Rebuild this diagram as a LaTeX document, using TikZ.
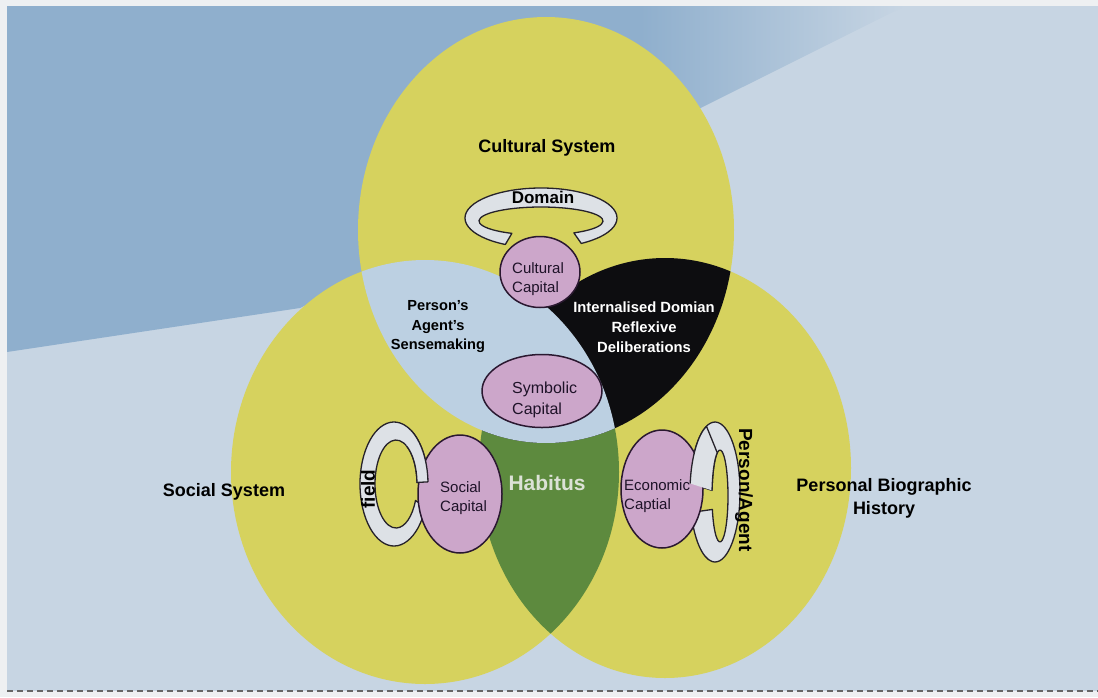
\documentclass[tikz,border=0pt]{standalone}
\usepackage{fontspec}
\setmainfont{Liberation Sans}
\usetikzlibrary{shapes.geometric,calc}

\definecolor{paper}{HTML}{EEF0F2}
\definecolor{panel}{HTML}{C7D5E3}
\definecolor{deepblue}{HTML}{8FAFCD}
\definecolor{venn}{HTML}{D6D25E}
\definecolor{sense}{HTML}{BCD0E2}
\definecolor{habfill}{HTML}{5D8A3E}
\definecolor{reflex}{HTML}{0D0D10}
\definecolor{capfill}{HTML}{CCA6CA}
\definecolor{capedge}{HTML}{2A1830}
\definecolor{capink}{HTML}{1E1228}
\definecolor{ringfill}{HTML}{DDE1E6}
\definecolor{ringedge}{HTML}{26222A}
\definecolor{habink}{HTML}{DCE2D6}

% block arc: outer centre, outer radii, inner centre, inner radii, start, end
\newcommand{\blockarc}[8]{%
  ($(#1)+(#7:#2 and #3)$) arc[start angle=#7,end angle=#8,x radius=#2,y radius=#3]
  -- ($(#4)+(#8:#5 and #6)$) arc[start angle=#8,end angle=#7,x radius=#5,y radius=#6] -- cycle}
% the same band without its closing edge (for arm ends laid over an ellipse)
\newcommand{\openarc}[8]{%
  ($(#1)+(#7:#2 and #3)$) arc[start angle=#7,end angle=#8,x radius=#2,y radius=#3]
  -- ($(#4)+(#8:#5 and #6)$) arc[start angle=#8,end angle=#7,x radius=#5,y radius=#6]}

\tikzset{
  sysname/.style={font=\bfseries\fontsize{18}{23}\selectfont, align=center, inner sep=0, text=black},
  zonename/.style={font=\bfseries\fontsize{14.6}{19.5}\selectfont, align=center, inner sep=0},
  capname/.style={font=\fontsize{15}{19}\selectfont, align=left, inner sep=0, text=capink, anchor=west},
  capital/.style={ellipse, draw=capedge, line width=1.5pt, fill=capfill, inner sep=0},
  ring/.style={fill=ringfill, draw=ringedge, line width=1.3pt, line join=round},
  ringline/.style={draw=ringedge, line width=1.3pt, line join=round},
  ringname/.style={font=\bfseries\fontsize{19}{19}\selectfont, inner sep=0, text=black},
  rule/.style={draw=black!60, line width=1.6pt, dash pattern=on 6pt off 4pt}
}

\def\topset{(546,230) ellipse [x radius=188, y radius=213]}
\def\leftset{(425,472) ellipse [x radius=194, y radius=212]}
\def\rightset{(665,468) ellipse [x radius=186, y radius=210]}

\begin{document}
\begin{tikzpicture}[x=1pt,y=-1pt]
\useasboundingbox (0,0) rectangle (1098,697);

% page, panel and the darker blue field in the upper left
\fill[paper] (0,0) rectangle (1098,697);
\fill[panel] (7,6) rectangle (1098,691);
\begin{scope}
  \clip (7,6) -- (905,6) -- (300,308) -- (7,352) -- cycle;
  \fill[deepblue] (7,6) rectangle (641,360);
  \shade[left color=deepblue, right color=panel] (640,6) rectangle (905,360);
\end{scope}
\draw[rule] (7,691) -- (1098,691);

% the three systems
\fill[venn] \topset;
\fill[venn] \leftset;
\fill[venn] \rightset;
\begin{scope}
  \clip \leftset;
  \fill[habfill] \rightset;
\end{scope}
\begin{scope}
  \clip \topset;
  \fill[reflex] \rightset;
\end{scope}
\begin{scope}
  \clip \topset;
  \fill[sense] \leftset;
\end{scope}

% system names
\node[sysname] (cultsys) at (547,148) {Cultural System};
\node[sysname] (socsys) at (224,492) {Social System};
\node[sysname] (biosys) at (884,498) {Personal Biographic\\History};

% overlap names
\node[zonename, text=black] (sensemaking) at (438,327) {Person’s\\Agent’s\\Sensemaking};
\node[zonename, text=white, font=\bfseries\fontsize{14.8}{20}\selectfont] (reflexive) at (644,327)
  {Internalised Domian\\Reflexive\\Deliberations};
\node[font=\bfseries\fontsize{21}{21}\selectfont, text=habink, inner sep=0] (habitus) at (547,483) {Habitus};

% domain ring with cultural capital
\coordinate (domout) at (541,218);
\coordinate (domin) at (541,221);
\draw[ring] \blockarc{domout}{76}{30}{domin}{62}{14}{118}{418};
\node[ringname, font=\bfseries\fontsize{17}{17}\selectfont] (domain) at (543,197) {Domain};
\node[capital, minimum width=80, minimum height=71] (cultcap) at (540,272) {};
\node[capname] (culttxt) at (512,279) {Cultural\\Capital};

% symbolic capital
\node[capital, minimum width=120, minimum height=73] (symcap) at (542,391) {};
\node[capname, font=\fontsize{16}{21}\selectfont] (symtxt) at (512,400) {Symbolic\\Capital};

% field ring with social capital
\coordinate (fieldout) at (394,484);
\coordinate (fieldin) at (396,484);
\draw[ring] \blockarc{fieldout}{34}{62}{fieldin}{21}{44}{22}{358};
\node[capital, minimum width=84, minimum height=118] (soccap) at (460,494) {};
\fill[ringfill] \blockarc{fieldout}{34}{62}{fieldin}{21}{44}{300}{358};
\draw[ringline] \openarc{fieldout}{34}{62}{fieldin}{21}{44}{300}{358};
\node[ringname, rotate=90] (field) at (368,489) {field};
\node[capname] (soctxt) at (440,498) {Social\\Capital};

% person/agent ring with economic capital
\coordinate (agentout) at (715,492);
\coordinate (agentin) at (720,496);
\draw[ring] \blockarc{agentout}{25}{70}{agentin}{8}{46}{187}{523};
\node[capital, minimum width=82, minimum height=118] (ecocap) at (662,489) {};
\fill[ringfill] \blockarc{agentout}{25}{70}{agentin}{8}{46}{187}{250};
\draw[ringline] \openarc{agentout}{25}{70}{agentin}{8}{46}{187}{250};
\node[capname] (ecotxt) at (624,496) {Economic\\Captial};
\node[ringname, rotate=-90] (agent) at (744,490) {Person/Agent};
\end{tikzpicture}
\end{document}
